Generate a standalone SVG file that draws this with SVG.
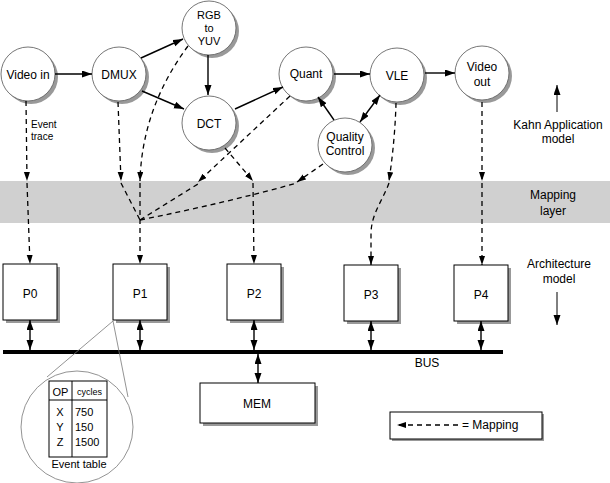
<svg xmlns="http://www.w3.org/2000/svg" width="610" height="483" viewBox="0 0 610 483">
<style>
text{font-family:"Liberation Sans",Arial,sans-serif;fill:#000}
.lbl{font-size:12px;text-anchor:middle}
.lbs{font-size:11px;text-anchor:middle}
.sm{font-size:10px}
.node{fill:#fff;stroke:#666;stroke-width:0.9}
.nsh{fill:#999}
.box{fill:#fff;stroke:#000;stroke-width:1}
.bsh{fill:#999}
.arr{stroke:#000;stroke-width:1.4;fill:none}
.map{stroke:#000;stroke-width:1.3;fill:none;stroke-dasharray:5,4}
.thin{stroke:#777;stroke-width:0.8;fill:none}
</style>
<defs>
<marker id="ah" markerUnits="userSpaceOnUse" markerWidth="11" markerHeight="8" refX="10" refY="3.5" orient="auto-start-reverse">
<path d="M0,0 L10,3.5 L0,7 z" fill="#000"/>
</marker>
<marker id="mh" markerUnits="userSpaceOnUse" markerWidth="10" markerHeight="7" refX="9" refY="3" orient="auto-start-reverse">
<path d="M0,0 L9,3 L0,6 z" fill="#000"/>
</marker>
</defs>

<rect id="mapping-band" x="0" y="181" width="610" height="42" fill="#d0d0d0"/>

<g id="n-videoin"><circle class="nsh" cx="31" cy="77" r="27"/><circle class="node" cx="28" cy="74" r="27"/><text class="lbl" x="28" y="79">Video  in</text></g>
<g id="n-dmux"><circle class="nsh" cx="122" cy="77" r="27"/><circle class="node" cx="119" cy="74" r="27"/><text class="lbl" x="119" y="79">DMUX</text></g>
<g id="n-rgb"><circle class="nsh" cx="212" cy="31" r="27"/><circle class="node" cx="209" cy="28" r="27"/><text class="lbs" x="209" y="19">RGB</text><text class="lbs" x="209" y="32">to</text><text class="lbs" x="209" y="45">YUV</text></g>
<g id="n-dct"><circle class="nsh" cx="212" cy="126" r="27"/><circle class="node" cx="209" cy="123" r="27"/><text class="lbl" x="209" y="128">DCT</text></g>
<g id="n-quant"><circle class="nsh" cx="309" cy="77" r="27"/><circle class="node" cx="306" cy="74" r="27"/><text class="lbl" x="306" y="78">Quant</text></g>
<g id="n-vle"><circle class="nsh" cx="400" cy="78" r="27"/><circle class="node" cx="397" cy="75" r="27"/><text class="lbl" x="397" y="80">VLE</text></g>
<g id="n-videoout"><circle class="nsh" cx="485" cy="76" r="27"/><circle class="node" cx="482" cy="73" r="27"/><text class="lbl" x="482" y="71">Video</text><text class="lbl" x="482" y="86">out</text></g>
<g id="n-qc"><circle class="nsh" cx="348" cy="148" r="27"/><circle class="node" cx="345" cy="145" r="27"/><text class="lbl" x="345" y="141">Quality</text><text class="lbl" x="345" y="155">Control</text></g>

<g id="p0"><rect class="bsh" x="6" y="267" width="54" height="56"/><rect class="box" x="3" y="264" width="54" height="56"/><text class="lbl" x="30" y="298">P0</text></g>
<g id="p1"><rect class="bsh" x="116" y="267" width="54" height="56"/><rect class="box" x="113" y="264" width="54" height="56"/><text class="lbl" x="140" y="298">P1</text></g>
<g id="p2"><rect class="bsh" x="230" y="267" width="54" height="56"/><rect class="box" x="227" y="264" width="54" height="56"/><text class="lbl" x="254" y="298">P2</text></g>
<g id="p3"><rect class="bsh" x="347" y="268" width="54" height="56"/><rect class="box" x="344" y="265" width="54" height="56"/><text class="lbl" x="371" y="299">P3</text></g>
<g id="p4"><rect class="bsh" x="457" y="268" width="54" height="56"/><rect class="box" x="454" y="265" width="54" height="56"/><text class="lbl" x="481" y="299">P4</text></g>
<g id="mem"><rect class="bsh" x="203" y="386" width="115" height="40"/><rect class="box" x="200" y="383" width="115" height="40"/><text class="lbl" x="257" y="408">MEM</text></g>
<g id="bus"><rect x="3" y="350" width="500" height="4" fill="#000"/><text class="lbl" x="427" y="367">BUS</text></g>

<g id="connectors">
<line class="arr" x1="55" y1="74" x2="92" y2="74" marker-end="url(#ah)"/>
<line class="arr" x1="141" y1="58" x2="183" y2="39" marker-end="url(#ah)"/>
<line class="arr" x1="142" y1="91" x2="184" y2="109" marker-end="url(#ah)"/>
<line class="arr" x1="208" y1="55" x2="208" y2="95" marker-end="url(#ah)"/>
<line class="arr" x1="235" y1="109" x2="283" y2="87" marker-end="url(#ah)"/>
<line class="arr" x1="334" y1="74" x2="370" y2="74" marker-end="url(#ah)"/>
<line class="arr" x1="425" y1="73" x2="455" y2="73" marker-end="url(#ah)"/>
<line class="arr" x1="334" y1="120" x2="318" y2="97" marker-end="url(#ah)"/>
<line class="arr" x1="360" y1="122" x2="380" y2="95" marker-start="url(#ah)" marker-end="url(#ah)"/>

<line class="arr" x1="30" y1="320" x2="30" y2="350" marker-start="url(#ah)" marker-end="url(#ah)"/>
<line class="arr" x1="140" y1="320" x2="140" y2="350" marker-start="url(#ah)" marker-end="url(#ah)"/>
<line class="arr" x1="254" y1="320" x2="254" y2="350" marker-start="url(#ah)" marker-end="url(#ah)"/>
<line class="arr" x1="371" y1="321" x2="371" y2="350" marker-start="url(#ah)" marker-end="url(#ah)"/>
<line class="arr" x1="481" y1="321" x2="481" y2="350" marker-start="url(#ah)" marker-end="url(#ah)"/>
<line class="arr" x1="258" y1="354" x2="258" y2="383" marker-start="url(#ah)" marker-end="url(#ah)"/>

<path class="map" d="M26,101 L27,181" marker-end="url(#mh)"/>
<path class="map" d="M27,183 L30,264" marker-end="url(#mh)"/>
<path class="map" d="M118,102 L121,181" marker-end="url(#mh)"/>
<path class="map" d="M121,183 L140,220"/>
<path class="map" d="M188,46 Q142,108 140,181" marker-end="url(#mh)"/>
<path class="map" d="M140,183 L140,264" marker-end="url(#mh)"/>
<path class="map" d="M225,148 L253,181" marker-end="url(#mh)"/>
<path class="map" d="M253,183 L254,264" marker-end="url(#mh)"/>
<path class="map" d="M290,96 L198,182" marker-end="url(#mh)"/>
<path class="map" d="M140,220 L198,184"/>
<path class="map" d="M323,164 L297,182" marker-end="url(#mh)"/>
<path class="map" d="M140,220 Q225,203 297,183"/>
<path class="map" d="M396,103 Q395,140 389,181" marker-end="url(#mh)"/>
<path class="map" d="M389,183 C383,200 371,214 371,234 L371,265" marker-end="url(#mh)"/>
<path class="map" d="M482,102 L482,181" marker-end="url(#mh)"/>
<path class="map" d="M482,183 L482,265" marker-end="url(#mh)"/>
</g>

<text class="sm" x="31" y="128">Event</text>
<text class="sm" x="31" y="140">trace</text>

<g id="side-labels">
<text class="lbl" x="558" y="129">Kahn Application</text>
<text class="lbl" x="558" y="143">model</text>
<line class="arr" x1="557" y1="112" x2="557" y2="85" marker-end="url(#ah)" style="stroke-width:1"/>
<text class="lbl" x="553" y="199">Mapping</text>
<text class="lbl" x="553" y="215">layer</text>
<text class="lbl" x="559" y="268">Architecture</text>
<text class="lbl" x="559" y="283">model</text>
<line class="arr" x1="557" y1="292" x2="557" y2="325" marker-end="url(#ah)" style="stroke-width:1"/>
</g>

<g id="event-table">
<line class="thin" x1="113" y1="321" x2="47" y2="377"/>
<line class="thin" x1="113" y1="321" x2="128" y2="397"/>
<circle cx="77" cy="427" r="56" fill="#fff" stroke="#777" stroke-width="0.8"/>
<rect x="49" y="381" width="58" height="76" fill="none" stroke="#000" stroke-width="1"/>
<line x1="49" y1="400" x2="107" y2="400" stroke="#000" stroke-width="1"/>
<line x1="72" y1="381" x2="72" y2="457" stroke="#000" stroke-width="1"/>
<text x="60.5" y="396" style="font-size:11px;text-anchor:middle">OP</text>
<text x="89.5" y="395" style="font-size:9px;text-anchor:middle">cycles</text>
<text x="60" y="416" style="font-size:11px;text-anchor:middle">X</text>
<text x="60" y="431" style="font-size:11px;text-anchor:middle">Y</text>
<text x="60" y="446" style="font-size:11px;text-anchor:middle">Z</text>
<text x="75" y="416" style="font-size:11px">750</text>
<text x="75" y="431" style="font-size:11px">150</text>
<text x="75" y="446" style="font-size:11px">1500</text>
<text x="79" y="468" style="font-size:11px;text-anchor:middle">Event table</text>
</g>

<g id="legend">
<rect class="bsh" x="392" y="414" width="152" height="27"/>
<rect class="box" x="390" y="412" width="152" height="27"/>
<path class="map" d="M458,425 L397,425" marker-end="url(#mh)"/>
<text x="462" y="429" style="font-size:12px">= Mapping</text>
</g>
</svg>
